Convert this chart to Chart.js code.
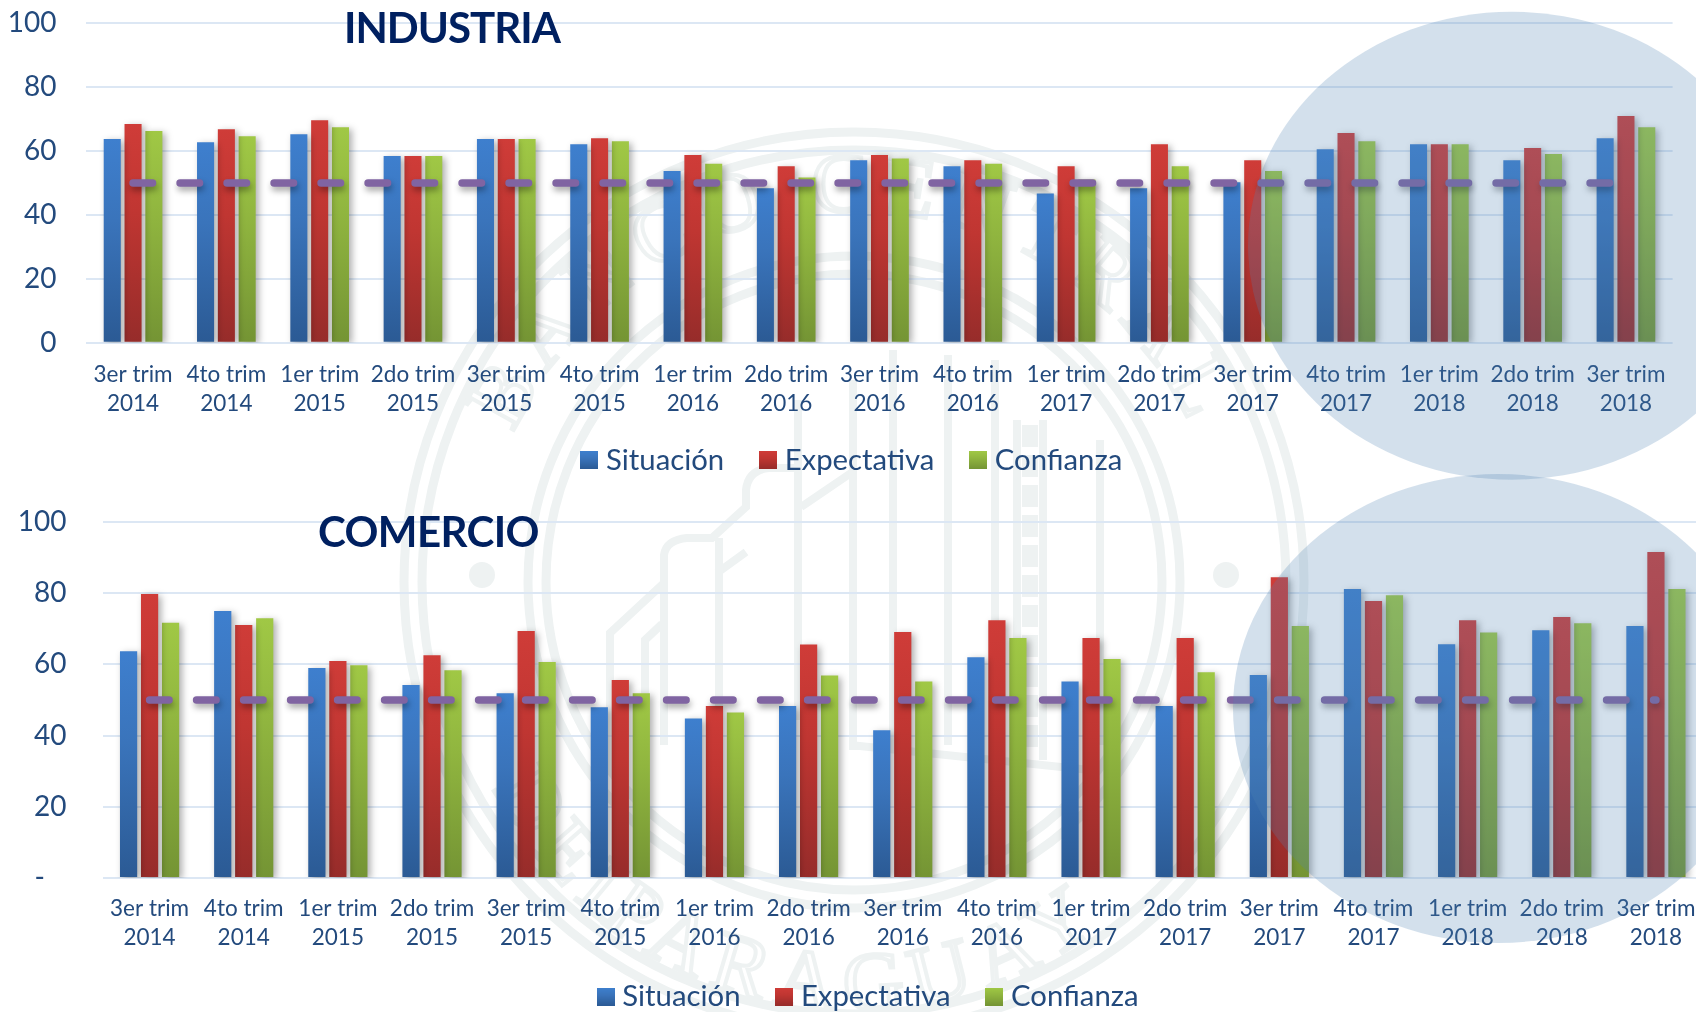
<!DOCTYPE html>
<html lang="es">
<head>
<meta charset="utf-8">
<title>Industria y Comercio</title>
<script src="https://cdn.jsdelivr.net/npm/chart.js@4"></script>
<style>
html,body{margin:0;padding:0;width:1696px;height:1012px;overflow:hidden;background:#fff}
#stage{position:relative;width:1696px;height:1012px;overflow:hidden}
#seal,#spots{position:absolute;left:0;top:0;pointer-events:none}
#spots{z-index:5}
canvas{position:absolute;z-index:2}
.ttl{position:absolute;z-index:3;font-family:Lato,sans-serif;font-weight:700;font-size:42px;line-height:42px;color:#002060;letter-spacing:-1px;white-space:nowrap}
</style>
</head>
<body>
<div id="stage">
<svg id="seal" width="1696" height="1012" viewBox="0 0 1696 1012">
  <defs>
    <path id="arcTop" d="M 490 660 A 372 372 0 1 1 1218 660"/>
    <path id="arcBot" d="M 500 800 A 403 403 0 0 0 1208 800"/>
  </defs>
  <g fill="none" stroke="#eef2f2">
    <circle cx="854" cy="582" r="450" stroke-width="9"/>
    <circle cx="854" cy="582" r="432" stroke-width="9"/>
    <circle cx="854" cy="582" r="326" stroke-width="9"/>
    <circle cx="854" cy="582" r="308" stroke-width="9"/>
    <g stroke-width="8">
      <path d="M610 770V633L664 583V555Q666 540 687 538H712L746 507V490Q748 470 769 468H800"/>
      <path d="M645 770V640L662 624"/>
      <path d="M664 583V745M719 538V760M717 573L746 552M798 400V720M801 507L851 473"/>
      <path d="M853 380V750M893 350V750M948 355V745M995 360V745M1100 440V745M850 745L1090 770"/>
      <path d="M1017 420V760M1043 420V760"/>
      <path d="M1030 425V755" stroke-width="16" stroke-dasharray="22 8"/>
    </g>
  </g>
  <circle cx="482" cy="575" r="13" fill="#eef2f2"/>
  <circle cx="1226" cy="575" r="13" fill="#eef2f2"/>
  <g font-family="Liberation Serif" font-size="84" fill="none" stroke="#eef2f2" stroke-width="4" letter-spacing="12">
    <text><textPath href="#arcTop" startOffset="50%" text-anchor="middle">BANCO CENTRAL</textPath></text>
    <text><textPath href="#arcBot" startOffset="50%" text-anchor="middle">PARAGUAY</textPath></text>
    <text><textPath href="#arcBot" startOffset="10%" text-anchor="middle">DEL</textPath></text>
  </g>
</svg>
<canvas id="c1" width="1780" height="500" style="left:0;top:0;width:1780px;height:500px"></canvas>
<canvas id="c2" width="1812" height="555" style="left:0;top:480px;width:1812px;height:555px"></canvas>
<div class="ttl" style="left:344px;top:6px">INDUSTRIA</div>
<div class="ttl" style="left:318px;top:510px;letter-spacing:-0.6px">COMERCIO</div>
<svg id="spots" width="1696" height="1012" viewBox="0 0 1696 1012">
  <ellipse cx="1512" cy="245.7" rx="264" ry="234" fill="rgba(80,130,180,0.25)"/>
  <ellipse cx="1498" cy="708.5" rx="265" ry="234.5" fill="rgba(80,130,180,0.25)"/>
</svg>
</div>
<script>
const categories = [
  ["3er trim","2014"],["4to trim","2014"],["1er trim","2015"],["2do trim","2015"],["3er trim","2015"],
  ["4to trim","2015"],["1er trim","2016"],["2do trim","2016"],["3er trim","2016"],["4to trim","2016"],
  ["1er trim","2017"],["2do trim","2017"],["3er trim","2017"],["4to trim","2017"],["1er trim","2018"],
  ["2do trim","2018"],["3er trim","2018"]
];
const seriesNames = ["Situación","Expectativa","Confianza"];
const industriaSituacion   = [63.7,62.7,65.2,58.4,63.7,62.1,53.7,48.3,57.1,55.2,46.7,48.3,50.2,60.5,62.1,57.1,64.0];
const industriaExpectativa = [68.4,66.8,69.6,58.4,63.7,64.0,58.7,55.2,58.7,57.1,55.2,62.1,57.1,65.6,62.1,60.9,70.9];
const industriaConfianza   = [66.2,64.6,67.4,58.4,63.7,63.0,56.0,51.7,57.6,56.0,51.1,55.2,53.7,63.0,62.1,59.0,67.4];
const comercioSituacion    = [63.7,75.0,59.0,54.2,51.9,48.0,44.8,48.3,41.5,62.0,55.2,48.3,57.0,81.2,65.7,69.6,70.8];
const comercioExpectativa  = [79.8,71.1,61.0,62.6,69.4,55.6,48.3,65.6,69.1,72.4,67.4,67.4,84.5,77.8,72.4,73.3,91.6];
const comercioConfianza    = [71.7,73.0,59.8,58.4,60.7,51.9,46.5,56.9,55.2,67.4,61.5,57.8,70.8,79.4,69.0,71.6,81.2];
const referenceLine = [50,50,50,50,50,50,50,50,50,50,50,50,50,50,50,50,50];
const yTicks = [0,20,40,60,80,100];

const barColors = [
  {top:"#3e7fce",mid:"#3a74bb",bot:"#2b5a94"},
  {top:"#cf3c38",mid:"#c03632",bot:"#962c2a"},
  {top:"#a0c845",mid:"#90b53f",bot:"#749434"}
];
const textColor = "#234a7d";
const gridColor = "#dce7f4";

function fillFor(idx){
  return function(ctx){
    const c = barColors[idx], chart = ctx.chart, y = chart.scales && chart.scales.y;
    if(!y || ctx.type !== "data") return c.mid;
    const t = y.getPixelForValue(ctx.dataset.data[ctx.dataIndex]), b = y.getPixelForValue(0);
    const g = chart.ctx.createLinearGradient(0,t,0,b);
    g.addColorStop(0,c.top); g.addColorStop(0.4,c.mid); g.addColorStop(1,c.bot);
    return g;
  };
}
function swatch(idx){
  const cv = document.createElement("canvas"); cv.width = 18; cv.height = 18;
  const x = cv.getContext("2d"), c = barColors[idx], g = x.createLinearGradient(0,0,0,18);
  g.addColorStop(0,c.top); g.addColorStop(0.4,c.mid); g.addColorStop(1,c.bot);
  x.fillStyle = g; x.fillRect(0,0,18,18);
  return cv;
}
const shadowPlugin = {
  id:"softShadow",
  beforeDatasetDraw(chart,args){
    const c = chart.ctx; c.save();
    if(args.meta.type === "bar"){
      c.shadowColor="rgba(0,0,0,0.32)"; c.shadowBlur=7; c.shadowOffsetX=3; c.shadowOffsetY=2;
    }else{
      c.shadowColor="rgba(0,0,0,0.35)"; c.shadowBlur=6; c.shadowOffsetX=1; c.shadowOffsetY=4;
    }
  },
  afterDatasetDraw(chart){ chart.ctx.restore(); }
};

function build(id,values,cfg){
  const datasets = values.map((data,i)=>({
    type:"bar",label:seriesNames[i],data,order:2,
    backgroundColor:fillFor(i),borderWidth:0,
    categoryPercentage:cfg.cat,barPercentage:cfg.bar
  }));
  datasets.push({
    type:"line",label:"50",data:referenceLine,order:1,
    borderColor:"#8064a2",borderWidth:7.5,borderDash:[19.5,27.5],borderCapStyle:"round",
    pointRadius:0,fill:false,tension:0
  });
  const legendPin = {id:"legendPin",afterLayout(chart){
    chart.legend.top = cfg.legTop;
    chart.legend.left += cfg.legDx; chart.legend.right += cfg.legDx;
  }};
  new Chart(document.getElementById(id),{
    data:{labels:categories,datasets},
    plugins:[shadowPlugin,legendPin],
    options:{
      responsive:false,animation:false,devicePixelRatio:1,
      layout:{padding:{left:0,right:cfg.right,top:cfg.top,bottom:0}},
      plugins:{
        tooltip:{enabled:false},title:{display:false},
        legend:{
          position:"bottom",
          labels:{
            color:textColor,font:{family:"Lato",size:29.3},padding:cfg.legendPad,
            usePointStyle:true,pointStyleWidth:4.2,
            generateLabels(){return seriesNames.map((n,i)=>({text:n,fontColor:textColor,pointStyle:swatch(i),datasetIndex:i,hidden:false}));}
          }
        }
      },
      scales:{
        x:{
          grid:{display:false},border:{display:false},
          afterFit(s){s.height=cfg.xH;s.paddingLeft=0;s.paddingRight=0;},
          ticks:{color:textColor,font:{family:"Lato",size:22.5,lineHeight:"28.5px"},padding:cfg.xPad,maxRotation:0,minRotation:0,autoSkip:false}
        },
        y:{
          min:0,max:100,
          afterFit(s){s.width=cfg.yW;s.paddingTop=0;s.paddingBottom=0;},
          afterBuildTicks(s){s.ticks=yTicks.map(v=>({value:v}));},
          grid:{color:gridColor,lineWidth:2,drawTicks:false},border:{display:false},
          ticks:{color:textColor,font:{family:"Lato",size:28},padding:cfg.yPad,callback:cfg.yFmt}
        }
      }
    }
  });
}
document.fonts.load('28px Lato').finally(()=>{
  build("c1",[industriaSituacion,industriaExpectativa,industriaConfianza],
    {cat:0.669,bar:0.82,right:107.4,top:23,legendPad:41.6,xH:76.3,xPad:9.7,yW:86.4,yPad:30,legTop:404,legDx:18.4,yFmt:v=>String(v)});
  build("c2",[comercioSituacion,comercioExpectativa,comercioConfianza],
    {cat:0.669,bar:0.82,right:109,top:42,legendPad:41.6,xH:76,xPad:8.5,yW:102.5,yPad:36,legTop:460.5,legDx:19.5,yFmt:v=>v===0?"-\u00a0\u00a0\u00a0":String(v)});
});
</script>
</body>
</html>
